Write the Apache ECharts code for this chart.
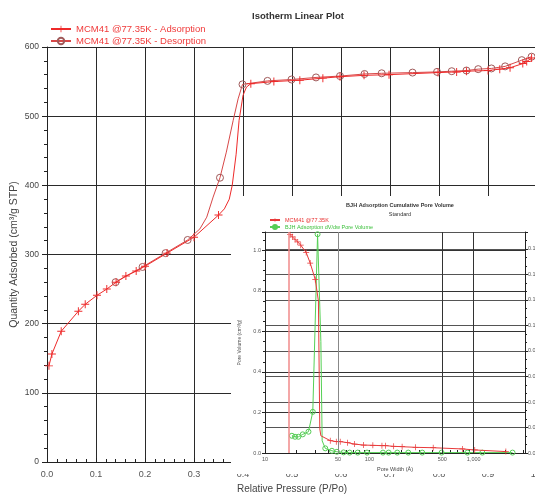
<!DOCTYPE html>
<html>
<head>
<meta charset="utf-8">
<script src="https://cdn.jsdelivr.net/npm/echarts@6/dist/echarts.min.js"></script>
<style>
    html, body { margin: 0; padding: 0; background: #fff; overflow: hidden; }
    #wrap { position: relative; width: 535px; height: 495px; }
    #main { position: absolute; left: 0; top: 0; width: 535px; height: 495px; }
    #inset { position: absolute; left: 231px; top: 196px; width: 304px; height: 278px; background: #fff; }
</style>
</head>
<body>
<div id="wrap">
    <div id="main"></div>
    <div id="inset"></div>
</div>
<script>
// 等温线 - 吸附分支 (带 + 标记的点)
var presAds = [0.004, 0.010, 0.029, 0.064, 0.078, 0.102, 0.122, 0.141, 0.161, 0.182, 0.200, 0.245, 0.300, 0.350,
    0.416, 0.463, 0.516, 0.563, 0.598, 0.647, 0.698, 0.798, 0.836, 0.856, 0.900, 0.924, 0.945, 0.971, 0.979, 0.989];
var qtyAds = [139, 156, 189, 218, 228, 241, 250, 260, 269, 276, 283, 302, 325, 357,
    547, 550, 552, 555, 557, 559, 560, 563, 564, 565, 566, 568, 570, 576, 579, 584];
// 吸附分支 拐弯处的点(不画标记)
var presAdsBend = [0.362, 0.372, 0.378, 0.386, 0.392, 0.400, 0.407];
var qtyAdsBend = [366, 380, 400, 445, 494, 530, 542];

// 脱附分支 (圆圈标记)
var presDes = [0.989, 0.969, 0.935, 0.907, 0.880, 0.856, 0.826, 0.796, 0.746, 0.683, 0.648, 0.598, 0.549, 0.499, 0.450, 0.399,
    0.353, 0.287, 0.242, 0.195, 0.140];
var qtyDes = [586, 581, 572, 569, 568, 566, 565, 564, 563, 562, 561, 558, 556, 553, 551, 546,
    411, 321, 302, 282, 260];
var presDesBend = [0.390, 0.380, 0.366, 0.339, 0.326, 0.312];
var qtyDesBend = [525, 494, 448, 383, 354, 337];

// BJH 累积孔体积 (小图)
var cumWidth = [17.4, 18.3, 19.4, 20.6, 22.0, 24.8, 27.1, 30.3, 42.2, 48.2, 52.6, 61.8, 72.2, 88.1, 108, 132, 143, 171, 206, 277, 409, 778, 1023, 2032];
var cumVol = [1.077, 1.066, 1.053, 1.041, 1.025, 0.989, 0.937, 0.856, 0.061, 0.056, 0.056, 0.051, 0.044, 0.039, 0.038, 0.036, 0.036, 0.033, 0.031, 0.028, 0.026, 0.020, 0.015, 0.007];
var cumWidthBend = [32.5, 33.5, 34.3];
var cumVolBend = [0.75, 0.12, 0.085];

// BJH dV/dw
var dvWidth = [18.1, 19.4, 20.9, 23.0, 26.1, 28.7, 31.9, 37.8, 43.8, 48.9, 56.6, 64.7, 77.3, 95, 135, 153, 185, 236, 321, 492, 869, 1210, 2355];
var dvVol = [0.085, 0.080, 0.080, 0.092, 0.105, 0.203, 1.079, 0.023, 0.011, 0.006, 0.003, 0.002, 0.002, 0.002, 0.002, 0.002, 0.002, 0.002, 0.002, 0.002, 0.002, 0.002, 0.002];
var dvWidthBend = [34.3, 35.3];
var dvVolBend = [0.55, 0.06];

var insetXTicks = [10, 50, 100, 500, 1000];
var insetMinorTicks = [20, 30, 40, 60, 70, 80, 90, 200, 300, 400, 600, 700, 800, 900, 2000, 3000];
var insetVLines = [50, 500, 1000];
var insetStartWidth = 17.0;

var FONT = 'Liberation Sans, Arial, sans-serif';

(function(){

    // 合并标记点和拐点, 拐点不画标记
    function buildLine(xs, ys, bx, by, desc, fx){
        fx = fx || function(v){ return v; };
        var pts = [];
        xs.forEach(function(x, i){ pts.push({value: [fx(x), ys[i]]}); });
        bx.forEach(function(x, i){ pts.push({value: [fx(x), by[i]], symbol: 'none'}); });
        pts.sort(function(a, b){ return desc ? b.value[0] - a.value[0] : a.value[0] - b.value[0]; });
        return pts;
    }

    var cross = 'path://M4.4,0H5.6V4.4H10V5.6H5.6V10H4.4V5.6H0V4.4H4.4Z';

    var mainChart = echarts.init(document.getElementById('main'));
    mainChart.setOption({
        backgroundColor: '#fff',
        animation: false,
        textStyle: {fontFamily: FONT},
        title: {
            text: 'Isotherm Linear Plot',
            left: 247,
            top: 6,
            textStyle: {fontSize: 9.5, fontWeight: 'bold', color: '#333', fontFamily: FONT}
        },
        legend: {
            orient: 'vertical',
            left: 45,
            top: 19,
            itemGap: 2,
            itemWidth: 20,
            itemHeight: 8,
            textStyle: {fontSize: 9.5, color: '#f03a3a', fontFamily: FONT},
            data: ['MCM41 @77.35K - Adsorption', 'MCM41 @77.35K - Desorption']
        },
        grid: {left: 47, top: 47, width: 490, height: 415, outerBoundsMode: 'none'},
        xAxis: {
            type: 'value', min: 0, max: 1, interval: 0.1,
            name: 'Relative Pressure (P/Po)', nameLocation: 'middle', nameGap: 21,
            nameTextStyle: {fontSize: 10, color: '#444', fontFamily: FONT},
            axisLine: {lineStyle: {color: '#222', width: 1}},
            axisTick: {inside: true, length: 4, lineStyle: {color: '#222'}},
            minorTick: {show: true, splitNumber: 5, length: 3, lineStyle: {color: '#222'}},
            splitLine: {show: true, lineStyle: {color: '#2a2a2a', width: 1}},
            axisLabel: {fontSize: 9, color: '#555', margin: 8, formatter: function(v){ return v.toFixed(1); }}
        },
        yAxis: {
            type: 'value', min: 0, max: 600, interval: 100,
            name: 'Quantity Adsorbed (cm³/g STP)', nameLocation: 'middle', nameGap: 27,
            nameMoveOverlap: false,
            nameTextStyle: {fontSize: 10.5, color: '#444', fontFamily: FONT},
            axisLine: {show: true, lineStyle: {color: '#222', width: 1}},
            axisTick: {show: true, length: 5, lineStyle: {color: '#222'}},
            minorTick: {show: true, splitNumber: 5, length: 3, lineStyle: {color: '#222'}},
            splitLine: {show: true, lineStyle: {color: '#2a2a2a', width: 1}},
            axisLabel: {fontSize: 8.5, color: '#444', margin: 8}
        },
        series: [
            {
                name: 'MCM41 @77.35K - Desorption',
                type: 'line',
                data: buildLine(presDes, qtyDes, presDesBend, qtyDesBend, true),
                symbol: 'circle',
                symbolSize: 7,
                showAllSymbol: true,
                lineStyle: {color: '#d84848', width: 1},
                itemStyle: {color: 'rgba(255,255,255,0)', borderColor: '#a05a5a', borderWidth: 1},
                z: 2
            },
            {
                name: 'MCM41 @77.35K - Adsorption',
                type: 'line',
                data: buildLine(presAds, qtyAds, presAdsBend, qtyAdsBend, false),
                symbol: cross,
                symbolSize: 8,
                showAllSymbol: true,
                lineStyle: {color: '#ee2a2a', width: 1},
                itemStyle: {color: '#ee2a2a'},
                z: 3
            }
        ]
    });

    // 小图: BJH
    var lg = function(v){ return Math.log10(v); };
    var insetChart = echarts.init(document.getElementById('inset'));
    insetChart.setOption({
        backgroundColor: '#fff',
        animation: false,
        textStyle: {fontFamily: FONT},
        title: {
            text: 'BJH Adsorption Cumulative Pore Volume',
            subtext: 'Standard',
            left: 164,
            textAlign: 'center',
            top: 1,
            itemGap: 3,
            textStyle: {fontSize: 5.5, fontWeight: 'bold', color: '#333', fontFamily: FONT},
            subtextStyle: {fontSize: 5.5, color: '#333', fontFamily: FONT}
        },
        legend: {
            orient: 'vertical',
            left: 33,
            top: 16,
            itemGap: 1,
            itemWidth: 10,
            itemHeight: 5,
            textStyle: {fontSize: 5.5, fontFamily: FONT},
            data: [
                {name: 'MCM41 @77.35K', textStyle: {color: '#e83030'}},
                {name: 'BJH Adsorption dV/dw Pore Volume', textStyle: {color: '#3cc03c'}}
            ]
        },
        grid: {left: 34, right: 10, top: 36, bottom: 21, outerBoundsMode: 'none'},
        xAxis: {
            type: 'value', min: 1, max: lg(3100),
            name: 'Pore Width (Å)', nameLocation: 'middle', nameGap: 9,
            nameTextStyle: {fontSize: 5.5, color: '#444', fontFamily: FONT},
            axisLine: {lineStyle: {color: '#222'}},
            axisTick: {show: true, inside: true, length: 3, customValues: insetXTicks.concat(insetMinorTicks).map(lg), lineStyle: {color: '#222'}},
            splitLine: {show: false},
            axisLabel: {
                fontSize: 5.5, color: '#555', margin: 3,
                customValues: insetXTicks.map(lg),
                formatter: function(v){ return Math.round(Math.pow(10, v)).toLocaleString('en-US'); }
            }
        },
        yAxis: [
            {
                type: 'value', min: 0, max: 1.09, interval: 0.2,
                name: 'Pore Volume (cm³/g)', nameLocation: 'middle', nameGap: 17,
                nameTextStyle: {fontSize: 5, color: '#555', fontFamily: FONT},
                axisLine: {show: true, lineStyle: {color: '#222'}},
                axisTick: {show: true, length: 3, lineStyle: {color: '#222'}},
                minorTick: {show: true, splitNumber: 4, length: 2, lineStyle: {color: '#222'}},
                splitLine: {show: true, lineStyle: {color: '#333', width: 1}},
                axisLabel: {fontSize: 5.5, color: '#555', margin: 4, showMaxLabel: false,
                    formatter: function(v){ return v > 1.05 ? '' : v.toFixed(1); }}
            },
            {
                type: 'value', min: 0, max: 0.1733, interval: 0.02, position: 'right',
                axisLine: {show: true, lineStyle: {color: '#222'}},
                axisTick: {show: true, length: 3, lineStyle: {color: '#222'}},
                minorTick: {show: true, splitNumber: 3, length: 2, lineStyle: {color: '#222'}},
                splitLine: {show: true, lineStyle: {color: '#555', width: 1}},
                axisLabel: {fontSize: 5.5, color: '#555', margin: 3, showMaxLabel: false,
                    formatter: function(v){ return v > 0.17 ? '' : v.toFixed(2); }}
            }
        ],
        series: [
            {
                name: 'MCM41 @77.35K',
                type: 'line',
                yAxisIndex: 0,
                data: buildLine(cumWidth, cumVol, cumWidthBend, cumVolBend, false, lg),
                symbol: cross,
                symbolSize: 6,
                showAllSymbol: true,
                lineStyle: {color: '#e83a3a', width: 1},
                itemStyle: {color: '#e83a3a'},
                z: 3,
                markLine: {
                    silent: true,
                    symbol: 'none',
                    label: {show: false},
                    data: [
                        {xAxis: lg(insetStartWidth), lineStyle: {color: '#f08a8a', width: 1.5, type: 'solid'}}
                    ].concat(insetVLines.map(function(w, i){
                        return {xAxis: lg(w), lineStyle: {color: i === 0 ? '#888' : '#333', width: 1, type: 'solid'}};
                    }))
                }
            },
            {
                name: 'BJH Adsorption dV/dw Pore Volume',
                type: 'line',
                yAxisIndex: 0,
                data: buildLine(dvWidth, dvVol, dvWidthBend, dvVolBend, false, lg),
                symbol: 'circle',
                symbolSize: 5,
                showAllSymbol: true,
                lineStyle: {color: '#55d055', width: 1},
                itemStyle: {color: 'rgba(255,255,255,0)', borderColor: '#55cc55', borderWidth: 1},
                z: 2
            }
        ]
    });
})();
</script>
</body>
</html>
